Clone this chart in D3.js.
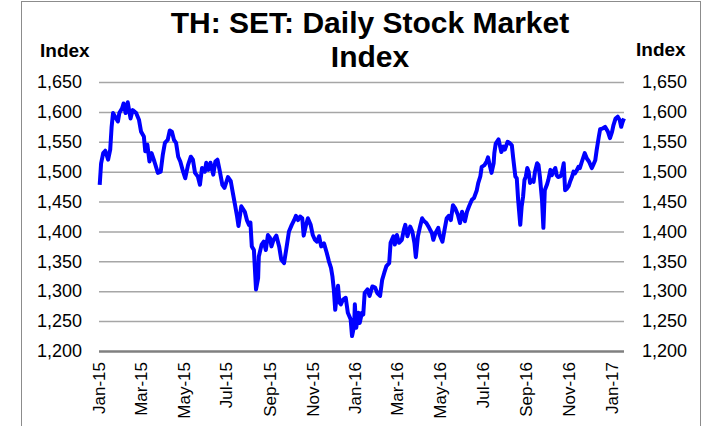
<!DOCTYPE html>
<html>
<head>
<meta charset="utf-8">
<script src="https://cdn.jsdelivr.net/npm/d3@7"></script>
<style>
    body { margin: 0; background: #fff; }
    svg { display: block; font-family: "Liberation Sans", Arial, sans-serif; }
</style>
</head>
<body>
<svg id="chart"></svg>
<script>
// SET index (roughly every few trading days)
const dates2015 = ["2015-01-02","2015-01-04","2015-01-07","2015-01-10","2015-01-14","2015-01-17","2015-01-19","2015-01-21","2015-01-24","2015-01-28","2015-01-30",
    "2015-02-03","2015-02-05","2015-02-08","2015-02-11","2015-02-15","2015-02-18","2015-02-23","2015-02-27",
    "2015-03-02","2015-03-06","2015-03-08","2015-03-11","2015-03-14","2015-03-17","2015-03-21","2015-03-26","2015-03-30",
    "2015-04-02","2015-04-05","2015-04-09","2015-04-12","2015-04-15","2015-04-18","2015-04-21","2015-04-24","2015-04-27",
    "2015-05-01","2015-05-04","2015-05-08","2015-05-12","2015-05-15","2015-05-18","2015-05-22","2015-05-25","2015-05-28",
    "2015-06-01","2015-06-03","2015-06-06","2015-06-09","2015-06-13","2015-06-16","2015-06-19","2015-06-22","2015-06-26","2015-06-29",
    "2015-07-04","2015-07-08","2015-07-11","2015-07-14","2015-07-17","2015-07-19","2015-07-23","2015-07-28","2015-07-31",
    "2015-08-03","2015-08-05","2015-08-07","2015-08-10","2015-08-13","2015-08-16","2015-08-17","2015-08-21","2015-08-24","2015-08-27","2015-08-30",
    "2015-09-02","2015-09-04","2015-09-07","2015-09-11","2015-09-15","2015-09-18","2015-09-22","2015-09-25","2015-09-29",
    "2015-10-03","2015-10-06","2015-10-09","2015-10-12","2015-10-15","2015-10-18","2015-10-20","2015-10-23","2015-10-26","2015-10-30",
    "2015-11-02","2015-11-05","2015-11-08","2015-11-11","2015-11-14","2015-11-18","2015-11-22","2015-11-25","2015-11-28","2015-11-30",
    "2015-12-02","2015-12-04","2015-12-06","2015-12-08","2015-12-10","2015-12-12","2015-12-15","2015-12-19","2015-12-22","2015-12-26","2015-12-28","2015-12-31"];
const values2015 = [1478,1514,1531,1535,1520,1537,1575,1598,1592,1584,1598,
    1606,1614,1598,1616,1589,1603,1598,1587,
    1567,1559,1534,1545,1517,1531,1517,1498,1500,
    1528,1548,1553,1569,1567,1553,1548,1525,1517,
    1500,1489,1511,1525,1520,1498,1492,1478,1506,
    1500,1515,1503,1515,1495,1517,1520,1503,1478,1473,
    1491,1484,1464,1445,1425,1409,1442,1433,1419,
    1411,1415,1375,1369,1303,1322,1358,1378,1383,1369,1394,
    1389,1375,1386,1393,1375,1353,1347,1369,1400,
    1411,1418,1426,1419,1425,1422,1393,1409,1422,1411,
    1394,1386,1383,1392,1375,1380,1364,1350,1339,1325,
    1303,1269,1292,1309,1281,1278,1286,1289,1264,1253,1225,1242];

const dates2016 = ["2016-01-01","2016-01-03","2016-01-06","2016-01-08","2016-01-11","2016-01-13","2016-01-15","2016-01-19","2016-01-22","2016-01-26","2016-01-30",
    "2016-02-02","2016-02-06","2016-02-09","2016-02-12","2016-02-15","2016-02-19","2016-02-21","2016-02-25","2016-02-27",
    "2016-03-01","2016-03-04","2016-03-08","2016-03-11","2016-03-13","2016-03-16","2016-03-20","2016-03-23","2016-03-26","2016-03-28","2016-03-31",
    "2016-04-03","2016-04-06","2016-04-09","2016-04-12","2016-04-16","2016-04-20","2016-04-22","2016-04-25","2016-04-29",
    "2016-05-01","2016-05-05","2016-05-08","2016-05-11","2016-05-14","2016-05-17","2016-05-20","2016-05-23","2016-05-27","2016-05-30",
    "2016-06-02","2016-06-06","2016-06-09","2016-06-12","2016-06-16","2016-06-19","2016-06-23","2016-06-25","2016-06-28","2016-06-30",
    "2016-07-04","2016-07-07","2016-07-09","2016-07-12","2016-07-14","2016-07-17","2016-07-18","2016-07-20","2016-07-24","2016-07-28","2016-07-31",
    "2016-08-02","2016-08-06","2016-08-09","2016-08-12","2016-08-14","2016-08-17","2016-08-19","2016-08-21","2016-08-24","2016-08-26","2016-08-28","2016-08-30",
    "2016-09-01","2016-09-03","2016-09-05","2016-09-07","2016-09-09","2016-09-12","2016-09-14","2016-09-17","2016-09-19","2016-09-21","2016-09-24","2016-09-26","2016-09-28",
    "2016-10-01","2016-10-03","2016-10-06","2016-10-08","2016-10-10","2016-10-13","2016-10-15","2016-10-17","2016-10-20","2016-10-22","2016-10-25","2016-10-27","2016-10-29",
    "2016-11-01","2016-11-03","2016-11-06","2016-11-08","2016-11-10","2016-11-13","2016-11-15","2016-11-17","2016-11-20","2016-11-24","2016-11-27","2016-11-30",
    "2016-12-04","2016-12-06","2016-12-09","2016-12-11","2016-12-14","2016-12-16","2016-12-19","2016-12-23","2016-12-27","2016-12-30"];
const values2016 = [1278,1239,1264,1247,1264,1261,1297,1303,1292,1308,1306,
    1297,1292,1319,1331,1342,1347,1381,1392,1378,
    1394,1381,1386,1403,1411,1392,1408,1400,1381,1357,1392,
    1408,1422,1417,1414,1406,1397,1386,1397,1406,
    1394,1383,1403,1422,1426,1419,1444,1439,1428,1414,
    1433,1417,1433,1442,1453,1456,1469,1481,1492,1508,
    1511,1517,1524,1508,1498,1514,1531,1547,1554,1533,1542,
    1537,1550,1548,1544,1522,1492,1489,1453,1411,1442,1458,1486,
    1492,1506,1500,1481,1486,1483,1500,1514,1511,1492,1453,1406,1469,
    1478,1486,1503,1494,1500,1506,1494,1491,1492,1496,1514,1469,1471,
    1476,1483,1492,1500,1497,1503,1508,1506,1517,1531,1522,1517,
    1506,1511,1519,1536,1558,1571,1572,1575,1567,1556];

const dates2017 = ["2017-01-02","2017-01-04","2017-01-07","2017-01-10","2017-01-13","2017-01-15","2017-01-17","2017-01-19"];
const values2017 = [1567,1578,1589,1592,1586,1575,1583,1589];

const yTicks = [1200, 1250, 1300, 1350, 1400, 1450, 1500, 1550, 1600, 1650];
const xStart = "2015-01-01";
const xEnd = "2017-01-19";
const chartTitle = ["TH: SET: Daily Stock Market", "Index"];
const axisTitle = "Index";

class LineChart {

    constructor(_config, _data) {
        this.config = {
            parentElement: _config.parentElement,
            containerWidth: _config.containerWidth || 702,
            containerHeight: _config.containerHeight || 426,
            margin: { top: 82, bottom: 75, right: 78, left: 99 }
        }
        this.data = _data;
        this.initVis();
    }

    initVis() {
        let vis = this;

        vis.width = vis.config.containerWidth - vis.config.margin.left - vis.config.margin.right;
        vis.height = vis.config.containerHeight - vis.config.margin.top - vis.config.margin.bottom;

        vis.svg = d3.select(vis.config.parentElement)
            .attr('width', vis.config.containerWidth)
            .attr('height', vis.config.containerHeight);

        // chart frame
        vis.svg.append("rect")
            .attr("x", 21.5)
            .attr("y", 1.5)
            .attr("width", 679)
            .attr("height", 440)
            .attr("fill", "none")
            .attr("stroke", "#8c8c8c")
            .attr("stroke-width", 1);

        vis.g = vis.svg.append("g")
            .attr("transform", "translate(" + vis.config.margin.left + "," + vis.config.margin.top + ")");

        vis.xScale = d3.scaleTime()
            .domain([d3.isoParse(xStart), d3.isoParse(xEnd)])
            .range([0, vis.width]);
        vis.yScale = d3.scaleLinear()
            .domain([1200, 1650])
            .range([vis.height, 0]);

        // title, two lines
        vis.svg.append("text")
            .attr("x", 370)
            .attr("y", 33)
            .attr("text-anchor", "middle")
            .attr("font-size", "30px")
            .attr("font-weight", "bold")
            .text(chartTitle[0]);
        vis.svg.append("text")
            .attr("x", 370)
            .attr("y", 67)
            .attr("text-anchor", "middle")
            .attr("font-size", "30px")
            .attr("font-weight", "bold")
            .text(chartTitle[1]);

        vis.svg.append("text")
            .attr("x", 40)
            .attr("y", 57)
            .attr("font-size", "19px")
            .attr("font-weight", "bold")
            .text(axisTitle);
        vis.svg.append("text")
            .attr("x", 636)
            .attr("y", 56)
            .attr("font-size", "19px")
            .attr("font-weight", "bold")
            .text(axisTitle);

        // gridlines
        let grid = vis.g.append("g")
            .call(d3.axisLeft(vis.yScale).tickValues(yTicks).tickSize(-vis.width).tickFormat(""));
        grid.select(".domain").remove();
        grid.selectAll("line")
            .attr("stroke", d => d === 1200 ? "#808080" : "#a6a6a6")
            .attr("stroke-width", d => d === 1200 ? 2.5 : 1.5);

        // left and right value labels
        let left = vis.g.append("g")
            .call(d3.axisLeft(vis.yScale).tickValues(yTicks).tickSize(0).tickPadding(17).tickFormat(d3.format(",")));
        left.select(".domain").remove();
        left.selectAll("text")
            .style("font-size", "18px")
            .style("font-family", "Liberation Sans, Arial, sans-serif")
            .style("fill", "#000");

        let right = vis.g.append("g")
            .attr("transform", "translate(" + vis.width + ",0)")
            .call(d3.axisRight(vis.yScale).tickValues(yTicks).tickSize(0).tickPadding(18).tickFormat(d3.format(",")));
        right.select(".domain").remove();
        right.selectAll("text")
            .style("font-size", "18px")
            .style("font-family", "Liberation Sans, Arial, sans-serif")
            .style("fill", "#000");

        // date labels, rotated
        let bottom = vis.g.append("g")
            .attr("transform", "translate(0," + vis.height + ")")
            .call(d3.axisBottom(vis.xScale).ticks(d3.timeMonth.every(2)).tickSize(0).tickFormat(d3.timeFormat("%b-%y")));
        bottom.select(".domain").remove();
        bottom.selectAll("text")
            .attr("transform", "rotate(-90)")
            .attr("x", -11)
            .attr("y", 0)
            .attr("dy", "0.35em")
            .style("text-anchor", "end")
            .style("font-size", "17px")
            .style("font-family", "Liberation Sans, Arial, sans-serif")
            .style("fill", "#000");

        vis.g.append("path")
            .datum(vis.data)
            .attr("fill", "none")
            .attr("stroke", "#0000ff")
            .attr("stroke-width", 4)
            .attr("stroke-linejoin", "round")
            .attr("d", d3.line()
                .x(function(d) { return vis.xScale(d.key) })
                .y(function(d) { return vis.yScale(d.value) }));
    }
}

let allDates = dates2015.concat(dates2016, dates2017);
let allValues = values2015.concat(values2016, values2017);
let data = allDates.map(function(d, i) {
    return { key: d3.isoParse(d), value: allValues[i] };
});

let chart = new LineChart({ parentElement: "#chart" }, data);
</script>
</body>
</html>
